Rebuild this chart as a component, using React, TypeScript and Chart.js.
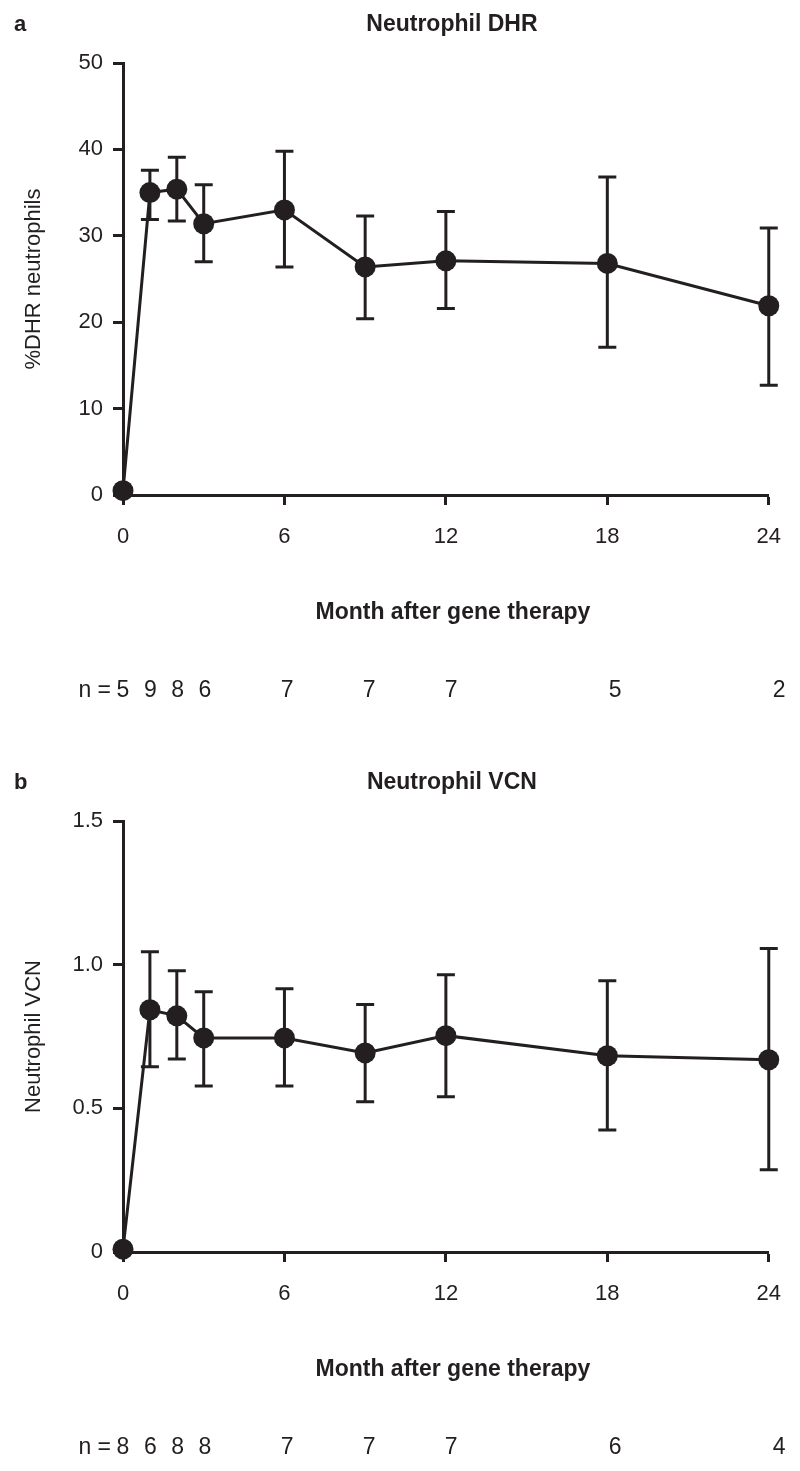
import React, { useEffect, useRef } from 'react';
import { Chart, registerables } from 'chart.js';

Chart.register(...registerables);

const INK = '#231f20';
const FONT = '"Liberation Sans", Arial, Helvetica, sans-serif';

// ---- data ----
const months = [0, 1, 2, 3, 6, 9, 12, 18, 24];
const xTickValues = [0, 6, 12, 18, 24];

const dhrMean = [0.5, 35.0, 35.4, 31.4, 33.0, 26.4, 27.1, 26.8, 21.9];
const dhrUpper = [null, 37.6, 39.1, 35.9, 39.8, 32.3, 32.8, 36.8, 30.9];
const dhrLower = [null, 31.9, 31.7, 27.0, 26.4, 20.4, 21.6, 17.1, 12.7];
const dhrN = [5, 9, 8, 6, 7, 7, 7, 5, 2];
const dhrYTicks = [0, 10, 20, 30, 40, 50];

const vcnMean = [0.01, 0.843, 0.822, 0.745, 0.745, 0.693, 0.753, 0.683, 0.669];
const vcnUpper = [null, 1.045, 0.979, 0.906, 0.916, 0.861, 0.965, 0.944, 1.056];
const vcnLower = [null, 0.645, 0.672, 0.578, 0.578, 0.523, 0.54, 0.425, 0.286];
const vcnN = [8, 6, 8, 8, 7, 7, 7, 6, 4];
const vcnYTicks = [0, 0.5, 1.0, 1.5];

type PanelProps = {
  letter: string;
  title: string;
  yTitle: string;
  mean: number[];
  upper: (number | null)[];
  lower: (number | null)[];
  nValues: number[];
  yTicks: number[];
  yFormat: (v: number) => string;
  height: number;
  areaTop: number;
  areaBottom: number;
};

function Panel(props: PanelProps) {
  const ref = useRef<HTMLCanvasElement | null>(null);

  useEffect(() => {
    const canvas = ref.current;
    if (!canvas) return;
    const X_AXIS_H = 60;
    const { letter, title, yTitle, mean, upper, lower, nValues, yTicks, yFormat, height, areaTop, areaBottom } = props;

    const errorBars = {
      id: 'errorBars',
      beforeDatasetsDraw(chart: any) {
        const ctx = chart.ctx;
        const xs = chart.scales.x;
        const ys = chart.scales.y;
        ctx.save();
        ctx.strokeStyle = INK;
        ctx.lineWidth = 3;
        ctx.lineCap = 'butt';
        months.forEach((m, i) => {
          const u = upper[i];
          const l = lower[i];
          if (u == null || l == null) return;
          const px = xs.getPixelForValue(m);
          const pu = ys.getPixelForValue(u);
          const pl = ys.getPixelForValue(l);
          ctx.beginPath();
          ctx.moveTo(px, pu);
          ctx.lineTo(px, pl);
          ctx.moveTo(px - 9, pu);
          ctx.lineTo(px + 9, pu);
          ctx.moveTo(px - 9, pl);
          ctx.lineTo(px + 9, pl);
          ctx.stroke();
        });
        ctx.restore();
      },
    };

    const texts = {
      id: 'texts',
      afterDraw(chart: any) {
        const ctx = chart.ctx;
        const { left, right, top, bottom } = chart.chartArea;
        const xs = chart.scales.x;
        ctx.save();
        ctx.fillStyle = INK;
        ctx.textBaseline = 'middle';
        // panel letter
        ctx.font = `bold 22px ${FONT}`;
        ctx.textAlign = 'left';
        ctx.fillText(letter, 14, top - 38);
        // title
        ctx.font = `bold 23px ${FONT}`;
        ctx.textAlign = 'center';
        ctx.fillText(title, (left + right) / 2 + 6, top - 38);
        // x title
        ctx.fillText('Month after gene therapy', (left + right) / 2 + 7, bottom + 118);
        // y title
        ctx.save();
        ctx.translate(34, (top + bottom) / 2);
        ctx.rotate(-Math.PI / 2);
        ctx.font = `22px ${FONT}`;
        ctx.fillText(yTitle, 0, 0);
        ctx.restore();
        // n row
        ctx.font = `23px ${FONT}`;
        const y = bottom + 196;
        const x0 = xs.getPixelForValue(months[0]);
        ctx.textAlign = 'right';
        ctx.fillText('n =', x0 - 12, y);
        ctx.textAlign = 'center';
        months.forEach((m, i) => {
          const px = xs.getPixelForValue(m);
          ctx.fillText(String(nValues[i]), left + (px - left) * 1.016, y);
        });
        ctx.restore();
      },
    };

    const chart = new Chart(canvas, {
      type: 'line',
      data: {
        datasets: [
          {
            data: months.map((m, i) => ({ x: m, y: mean[i] })),
            borderColor: INK,
            borderWidth: 3,
            backgroundColor: INK,
            pointBackgroundColor: INK,
            pointBorderColor: INK,
            pointBorderWidth: 0,
            pointRadius: 10.5,
            tension: 0,
            clip: false as any,
          },
        ],
      },
      options: {
        responsive: false,
        animation: false,
        layout: {
          padding: { top: areaTop, left: 0, right: 31, bottom: height - areaBottom - X_AXIS_H },
        },
        plugins: { legend: { display: false }, tooltip: { enabled: false }, title: { display: false } },
        scales: {
          x: {
            type: 'linear',
            min: 0,
            max: 24,
            afterBuildTicks: (s: any) => {
              s.ticks = xTickValues.map((v) => ({ value: v }));
            },
            afterFit: (s: any) => {
              s.height = X_AXIS_H;
            },
            grid: { drawOnChartArea: false, drawTicks: true, tickLength: 10, tickWidth: 3, tickColor: INK },
            border: { display: true, width: 3, color: INK },
            ticks: { color: INK, font: { family: FONT, size: 22 }, padding: 19, maxRotation: 0, autoSkip: false },
          },
          y: {
            type: 'linear',
            min: yTicks[0],
            max: yTicks[yTicks.length - 1],
            afterBuildTicks: (s: any) => {
              s.ticks = yTicks.map((v) => ({ value: v }));
            },
            afterFit: (s: any) => {
              s.width = 123;
            },
            grid: { drawOnChartArea: false, drawTicks: true, tickLength: 10, tickWidth: 3, tickColor: INK },
            border: { display: true, width: 3, color: INK },
            ticks: {
              color: INK,
              font: { family: FONT, size: 22 },
              padding: 10,
              autoSkip: false,
              callback: (v: any) => yFormat(Number(v)),
            },
          },
        },
      } as any,
      plugins: [errorBars, texts],
    });
    return () => chart.destroy();
  }, []);

  return (
    <canvas
      ref={ref}
      width={800}
      height={props.height}
      style={{ display: 'block', width: 800, height: props.height }}
    />
  );
}

export default function App() {
  useEffect(() => {
    document.body.style.margin = '0';
    document.body.style.background = '#ffffff';
  }, []);
  return (
    <div style={{ width: 800, height: 1471, background: '#ffffff' }}>
      <Panel
        letter="a"
        title="Neutrophil DHR"
        yTitle="%DHR neutrophils"
        mean={dhrMean}
        upper={dhrUpper}
        lower={dhrLower}
        nValues={dhrN}
        yTicks={dhrYTicks}
        yFormat={(v) => String(v)}
        height={735}
        areaTop={63}
        areaBottom={495}
      />
      <Panel
        letter="b"
        title="Neutrophil VCN"
        yTitle="Neutrophil VCN"
        mean={vcnMean}
        upper={vcnUpper}
        lower={vcnLower}
        nValues={vcnN}
        yTicks={vcnYTicks}
        yFormat={(v) => (v === 0 ? '0' : v.toFixed(1))}
        height={736}
        areaTop={86}
        areaBottom={517}
      />
    </div>
  );
}
